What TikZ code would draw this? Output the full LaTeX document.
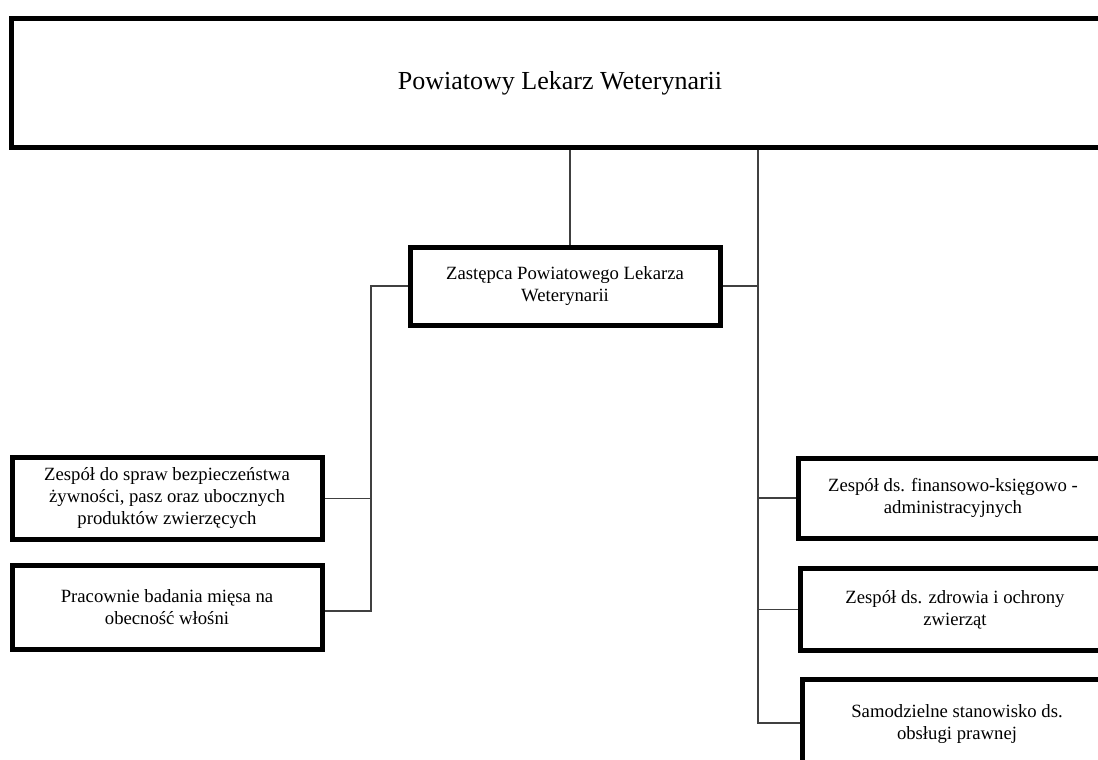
\documentclass[tikz,border=0pt]{standalone}
\usepackage{fontspec}
\setmainfont{Liberation Serif}
\usepackage{tikz}
\usetikzlibrary{calc}

\begin{document}
\begin{tikzpicture}[x=1pt, y=-1pt,
    unit/.style={draw, line width=5pt, rectangle, inner sep=0pt, align=center,
        minimum width=310pt, minimum height=82pt, font=\fontsize{18.7}{22}\selectfont},
    link/.style={line width=1.6pt, black!75}]
                \useasboundingbox (0,0) rectangle (1098,760);
                \clip (0,0) rectangle (1098,760);
                \fill[white] (0,0) rectangle (1098,760);
                \node[unit, minimum width=1098pt, minimum height=128pt, font=\fontsize{26}{30}\selectfont] (plw) at (560,83) {Powiatowy Lekarz Weterynarii};
                \node[unit, minimum height=78pt] (zast) at (565,286) {Zastępca Powiatowego Lekarza\\Weterynarii};
                \node[unit] (bezp) at (167,498.5) {Zespół do spraw bezpieczeństwa\\żywności, pasz oraz ubocznych\\produktów zwierzęcych};
                \node[unit, minimum height=84pt] (prac) at (167,607) {Pracownie badania mięsa na\\obecność włośni};
                \node[unit, minimum height=80pt] (fin) at (953,498) {Zespół ds. finansowo-księgowo -\\administracyjnych};
                \node[unit] (zdr) at (955,609.5) {Zespół ds. zdrowia i ochrony\\zwierząt};
                \node[unit, minimum height=90pt] (praw) at (957,724) {Samodzielne stanowisko ds.\\obsługi prawnej};
                \coordinate (lt) at (371,611);
                \coordinate (rt) at (758,723);
                \draw[link] ([xshift=5pt]zast.north) -- ([xshift=5pt]zast.north |- plw.south);
                \draw[link] (rt |- plw.south) -- (rt) -- (praw.west |- rt);
                \draw[link] (zast.east) -- (zast.east -| rt);
                \draw[link] (fin.west) -- (fin.west -| rt);
                \draw[link] (zdr.west) -- (zdr.west -| rt);
                \draw[link] (zast.west) -- (zast.west -| lt) -- (lt) -- (lt -| prac.east);
                \draw[link] (bezp.east) -- (bezp.east -| lt);
            \end{tikzpicture}
\end{document}
